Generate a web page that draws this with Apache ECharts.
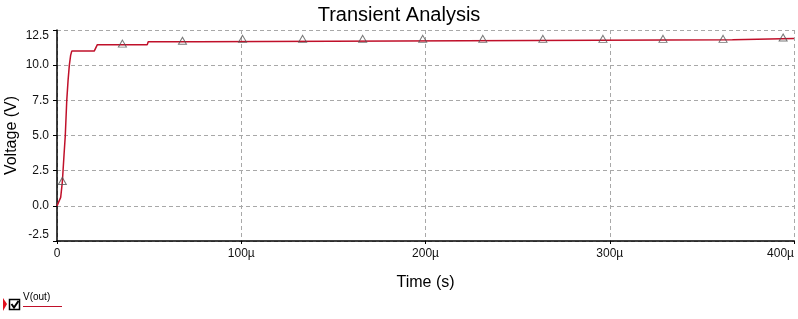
<!DOCTYPE html>
<html>
<head>
<meta charset="utf-8">
<script src="https://cdn.jsdelivr.net/npm/echarts@6/dist/echarts.min.js"></script>
<style>
html,body{margin:0;padding:0;background:#fff;}
#chart{width:798px;height:319px;}
</style>
</head>
<body>
<div id="chart"></div>
<script>
// Time in microseconds, voltage in volts
const timeUs = [0, 0.9, 2.0, 2.9, 3.8, 4.5, 5.3, 6.0, 6.7, 7.4, 8.0, 20.2, 21.9, 49.0, 49.5, 76.3, 76.8, 366.6, 367.2, 400];
const vOut   = [0, 0.05, 0.6, 1.7, 3.6, 5.0, 7.5, 8.9, 10.0, 10.7, 11.0, 11.0, 11.46, 11.46, 11.67, 11.67, 11.8, 11.8, 11.9, 11.9];
const markerTimeUs = [2.9, 35.5, 68.1, 100.7, 133.3, 165.9, 198.5, 231.1, 263.7, 296.3, 328.9, 361.5, 394.1];
const markerV      = [1.7, 11.46, 11.67, 11.8, 11.8, 11.8, 11.8, 11.8, 11.8, 11.8, 11.8, 11.8, 11.9];
const xTicks = [0, 100, 200, 300, 400];
const xTickLabels = ['0', '100µ', '200µ', '300µ', '400µ'];
const yTicks = [-2.5, 0, 2.5, 5, 7.5, 10, 12.5];

const FONT = 'Liberation Sans, Arial, sans-serif';
const RED = '#c0102a';

const chart = echarts.init(document.getElementById('chart'), null, {renderer: 'canvas'});
chart.setOption({
  animation: false,
  backgroundColor: '#fff',
  title: {
    text: 'Transient Analysis',
    left: 'center',
    top: 0,
    textStyle: {fontFamily: FONT, fontSize: 20, fontWeight: 'normal', color: '#000'}
  },
  grid: {left: 57, right: 4, top: 30, bottom: 78, containLabel: false, outerBoundsMode: 'none'},
  xAxis: {
    type: 'value',
    min: xTicks[0], max: xTicks[xTicks.length - 1], interval: 100,
    name: 'Time (s)', nameLocation: 'middle', nameGap: 34, nameMoveOverlap: false,
    nameTextStyle: {fontFamily: FONT, fontSize: 16, color: '#000'},
    axisLine: {show: true, onZero: false, lineStyle: {color: '#000', width: 1.5}},
    axisTick: {show: true, length: 3, lineStyle: {color: '#000'}},
    axisLabel: {fontFamily: FONT, fontSize: 12, color: '#111', margin: 7, alignMaxLabel: 'right',
      formatter: v => { const i = xTicks.indexOf(v); return i >= 0 ? xTickLabels[i] : ''; }},
    splitLine: {show: true, lineStyle: {color: '#a8a8a8', type: [4, 3], width: 1}}
  },
  yAxis: {
    type: 'value',
    min: yTicks[0], max: yTicks[yTicks.length - 1], interval: 2.5,
    name: 'Voltage (V)', nameLocation: 'middle', nameGap: 37, nameRotate: 90, nameMoveOverlap: false,
    nameTextStyle: {fontFamily: FONT, fontSize: 16, color: '#000'},
    axisLine: {show: true, onZero: false, lineStyle: {color: '#000', width: 1.5}},
    axisTick: {show: true, length: 4, lineStyle: {color: '#000'}},
    axisLabel: {fontFamily: FONT, fontSize: 12, color: '#111', margin: 8,
      verticalAlignMaxLabel: 'top', verticalAlignMinLabel: 'bottom',
      formatter: v => v.toFixed(1)},
    splitLine: {show: true, lineStyle: {color: '#a8a8a8', type: [4, 3], width: 1}}
  },
  series: [
    {
      type: 'line',
      name: 'V(out)',
      data: timeUs.map((t, i) => [t, vOut[i]]),
      showSymbol: false,
      symbol: 'none',
      lineStyle: {color: RED, width: 1.5},
      z: 2
    },
    {
      type: 'scatter',
      name: 'markers',
      data: markerTimeUs.map((t, i) => [t, markerV[i]]),
      symbol: 'triangle',
      symbolSize: [8, 7],
      symbolOffset: [0, -1],
      itemStyle: {color: 'rgba(255,255,255,0)', borderColor: '#555', borderWidth: 1},
      z: 3
    }
  ],
  graphic: [
    {type: 'polygon', shape: {points: [[3, 298], [7, 304], [3, 311]]}, style: {fill: '#e0101e'}},
    {type: 'rect', shape: {x: 9.5, y: 299.5, width: 10, height: 10}, style: {fill: '#fff', stroke: '#000', lineWidth: 1.5}},
    {type: 'polyline', shape: {points: [[11.5, 304], [14, 307.5], [18.5, 301]]}, style: {stroke: '#000', lineWidth: 2, fill: null}},
    {type: 'text', x: 23, y: 292, style: {text: 'V(out)', fontFamily: FONT, fontSize: 10, fill: '#000'}},
    {type: 'line', shape: {x1: 23, y1: 306.5, x2: 62, y2: 306.5}, style: {stroke: RED, lineWidth: 1}}
  ]
});
</script>
</body>
</html>
